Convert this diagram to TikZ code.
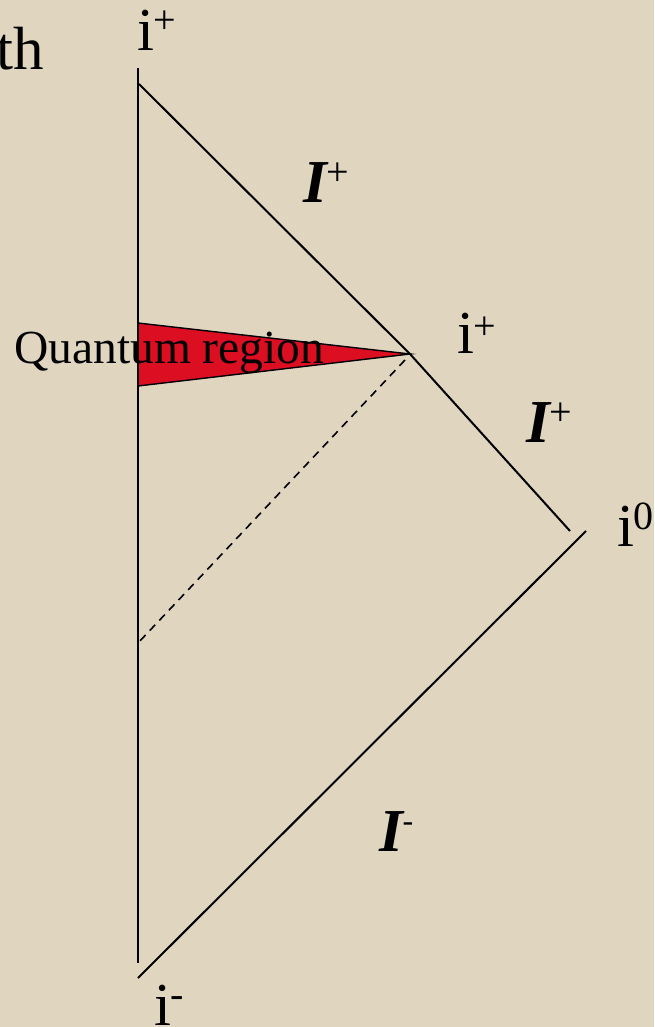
\documentclass[tikz,border=0pt]{standalone}
\usepackage{fontspec}
\setmainfont{Liberation Serif}
\definecolor{paper}{RGB}{224,214,192}
\definecolor{qred}{RGB}{220,14,34}
\newcommand{\spx}[3]{\raisebox{#1}{\fontsize{#2}{#2}\selectfont #3}}
\tikzset{
  line/.style={black, line width=2pt},
  dline/.style={black, line width=1.6pt, dash pattern=on 8pt off 6pt},
  lbl/.style={anchor=base west, inner sep=0pt, outer sep=0pt, font=\fontsize{61}{61}\selectfont},
  scri/.style={anchor=base west, inner sep=0pt, outer sep=0pt, font=\fontsize{61}{61}\selectfont\bfseries\itshape},
}
\begin{document}
\begin{tikzpicture}[x=1pt,y=-1pt]
\useasboundingbox (0,0) rectangle (654,1027);
\fill[paper] (0,0) rectangle (654,1027);
% corner points
\coordinate (top) at (138,68);
\coordinate (bot) at (138,963);
\coordinate (a) at (139,84);
\coordinate (apex) at (410,354);
\coordinate (e1) at (570,531);
\coordinate (e2) at (586,531);
\coordinate (b) at (138,978);
\coordinate (qt) at (138,323);
\coordinate (qb) at (138,386);
\coordinate (d1) at (405,360);
\coordinate (d2) at (138,643);
% quantum region
\filldraw[fill=qred, draw=black, line width=1.4pt] (qt) -- (apex) -- (qb) -- cycle;
% lines
\draw[line] (top) -- (bot);
\draw[line] (a) -- (apex) -- (e1);
\draw[line] (e2) -- (b);
\draw[dline] (d1) -- (d2);
% labels
\node[lbl] (th) at (-3,70) {th};
\node[lbl] (itop) at (137,51) {i\spx{17pt}{40}{+}};
\node[lbl] (imid) at (457,353) {i\spx{14pt}{40}{+}};
\node[lbl] (izero) at (617,546) {i\spx{17pt}{40}{0}};
\node[lbl] (ibot) at (154,1025) {i\spx{18pt}{40}{-}};
\node[scri] (Ip1) at (303,202) {I\spx{17pt}{40}{\normalfont +}};
\node[scri] (Ip2) at (526,442) {I\spx{17pt}{40}{\normalfont +}};
\node[scri] (Im) at (379,851) {I\spx{20pt}{32}{\normalfont -}};
\node[anchor=base west, inner sep=0pt, font=\fontsize{47.5}{47.5}\selectfont] (qr) at (14,363) {Quantum region};
\end{tikzpicture}
\end{document}
